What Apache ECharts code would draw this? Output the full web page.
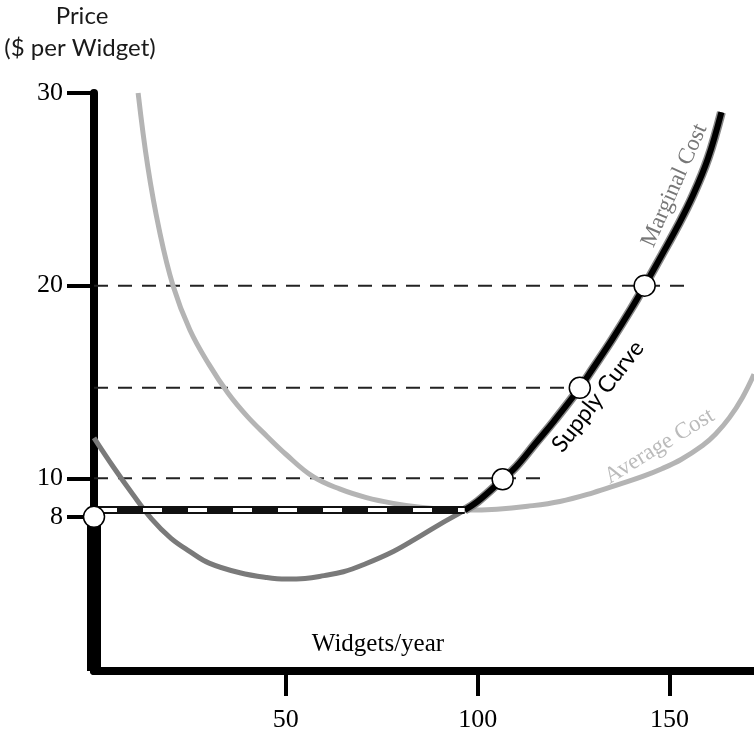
<!DOCTYPE html>
<html>
<head>
<meta charset="utf-8">
<script src="https://cdn.jsdelivr.net/npm/echarts@6/dist/echarts.min.js"></script>
<style>
html,body{margin:0;padding:0;background:#fff;}
#chart{width:754px;height:733px;}
</style>
</head>
<body>
<div id="chart"></div>
<script>
// ---- data ----
const yTicks = [8, 10, 20, 30];
const xTicks = [50, 100, 150];

// Marginal cost curve
const mcX = [0, 5, 10, 15, 20, 25, 30, 38, 45, 50, 55, 60, 65, 70, 78, 85, 90, 96.6, 100, 106.5, 110, 115, 120, 126.6, 130, 135, 140, 143.5, 148, 152, 156, 160, 163.5];
const mcY = [12.1, 10.6, 9.2, 7.9, 6.9, 6.2, 5.6, 5.1, 4.85, 4.77, 4.8, 4.95, 5.15, 5.5, 6.2, 7.0, 7.6, 8.35, 8.8, 9.95, 10.6, 11.8, 13.0, 14.7, 15.7, 17.2, 18.8, 20.0, 21.6, 23.05, 24.65, 26.6, 29.0];

// Average cost curve
const acX = [11.5, 14, 17, 20.6, 25, 30, 35, 40, 45, 50, 57, 64, 71, 78, 85, 92, 97, 105, 113, 121.4, 130, 137, 143, 148, 153, 158.6, 162, 165.6, 169, 172];
const acY = [30.0, 26.2, 22.9, 20.0, 17.7, 15.9, 14.4, 13.2, 12.2, 11.25, 10.1, 9.45, 9.0, 8.7, 8.5, 8.38, 8.35, 8.4, 8.55, 8.8, 9.25, 9.7, 10.1, 10.5, 10.98, 11.7, 12.3, 13.15, 14.2, 15.4];

// Shutdown price / AC minimum
const shutdownQ = 96.6;
const shutdownP = 8.35;
const closedPrice = 8;

// Price guide lines
const guidePrices = [10, 14.7, 20];
const guideEnds = [117, 126.6, 154];

// Supply points
const pointQ = [0, 106.5, 126.6, 143.5];
const pointP = [8, 9.95, 14.7, 20];

// ---- chart ----
const chart = echarts.init(document.getElementById('chart'));
const zip = (a, b) => a.map((v, i) => [v, b[i]]);
const mcData = zip(mcX, mcY);
const acData = zip(acX, acY);
const supplyData = mcData.filter(p => p[0] >= shutdownQ);

const serif = 'Liberation Serif';
const sans = 'Lato';

const series = [];
guidePrices.forEach((p, i) => {
  series.push({
    type: 'line', data: [[0, p], [guideEnds[i], p]], symbol: 'none', silent: true, z: 2,
    lineStyle: { color: '#222', width: 2, type: [14, 10] }
  });
});
series.push({
  type: 'line', data: acData, smooth: 0.4, symbol: 'none', z: 3,
  lineStyle: { color: '#b4b4b4', width: 5 }
});
series.push({
  type: 'line', data: mcData, smooth: 0.4, symbol: 'none', z: 4,
  lineStyle: { color: '#7a7a7a', width: 5 }
});
series.push({
  type: 'line', data: supplyData, smooth: 0.4, symbol: 'none', z: 5,
  lineStyle: { color: '#888', width: 9 }
});
series.push({
  type: 'line', data: supplyData, smooth: 0.4, symbol: 'none', z: 6,
  lineStyle: { color: '#000', width: 6 }
});
// vertical supply segment at q = 0
series.push({
  type: 'line', data: [[0, 0], [0, closedPrice]], symbol: 'none', z: 6,
  lineStyle: { color: '#000', width: 14 }
});
// horizontal dashed black/white segment
series.push({
  type: 'line', data: [[0, shutdownP], [shutdownQ, shutdownP]], symbol: 'none', z: 7,
  lineStyle: { color: '#111', width: 8, cap: 'butt' }
});
series.push({
  type: 'line', data: [[0, shutdownP], [shutdownQ, shutdownP]], symbol: 'none', z: 8,
  lineStyle: { color: '#fff', width: 4, type: [19, 26], dashOffset: 41, cap: 'butt' }
});
series.push({
  type: 'scatter', data: zip(pointQ, pointP), symbol: 'circle', symbolSize: 21, z: 10,
  itemStyle: { color: '#fff', borderColor: '#000', borderWidth: 1.5, opacity: 1 }
});

chart.setOption({
  animation: false,
  backgroundColor: '#fff',
  grid: { left: 94, right: 0, top: 93, bottom: 61, containLabel: false },
  xAxis: {
    type: 'value', min: 0, max: 172,
    splitLine: { show: false },
    axisLine: { show: true, onZero: false, lineStyle: { color: '#000', width: 8 } },
    axisTick: { show: true, customValues: xTicks, length: 25, lineStyle: { color: '#000', width: 4 } },
    axisLabel: { customValues: xTicks, margin: 36, fontFamily: serif, fontSize: 26, color: '#000' }
  },
  yAxis: {
    type: 'value', min: 0, max: 30,
    splitLine: { show: false },
    axisLine: { show: true, onZero: false, lineStyle: { color: '#000', width: 8 } },
    axisTick: { show: true, customValues: yTicks, length: 27, lineStyle: { color: '#000', width: 4 } },
    axisLabel: { customValues: yTicks, margin: 31, fontFamily: serif, fontSize: 26, color: '#000' }
  },
  series: series
});

function px(q, p) { return chart.convertToPixel({ gridIndex: 0 }, [q, p]); }
const deg = d => d * Math.PI / 180;
const mcLbl = px(151.3, 25.2);
const spLbl = px(131.3, 14.25);
const acLbl = px(147.4, 11.66);
const xLbl = px(74, 1.4);

chart.setOption({
  graphic: [
    { type: 'text', x: 82, y: 16, style: { text: 'Price', font: '24px ' + sans, fill: '#1a1a1a', align: 'center', verticalAlign: 'middle' } },
    { type: 'text', x: 80, y: 48, style: { text: '($ per Widget)', font: '24px ' + sans, fill: '#1a1a1a', align: 'center', verticalAlign: 'middle' } },
    { type: 'text', x: xLbl[0], y: xLbl[1], style: { text: 'Widgets/year', font: '25px ' + serif, fill: '#000', align: 'center', verticalAlign: 'middle' } },
    { type: 'text', x: mcLbl[0], y: mcLbl[1], rotation: deg(66), z: 20, style: { text: 'Marginal Cost', font: '23px ' + serif, fill: '#777', align: 'center', verticalAlign: 'middle' } },
    { type: 'text', x: spLbl[0], y: spLbl[1], rotation: deg(52), z: 20, style: { text: 'Supply Curve', font: '23px ' + sans, fill: '#000', align: 'center', verticalAlign: 'middle' } },
    { type: 'text', x: acLbl[0], y: acLbl[1], rotation: deg(31.5), z: 20, style: { text: 'Average Cost', font: '23px ' + serif, fill: '#bbb', align: 'center', verticalAlign: 'middle' } }
  ]
});
</script>
</body>
</html>
